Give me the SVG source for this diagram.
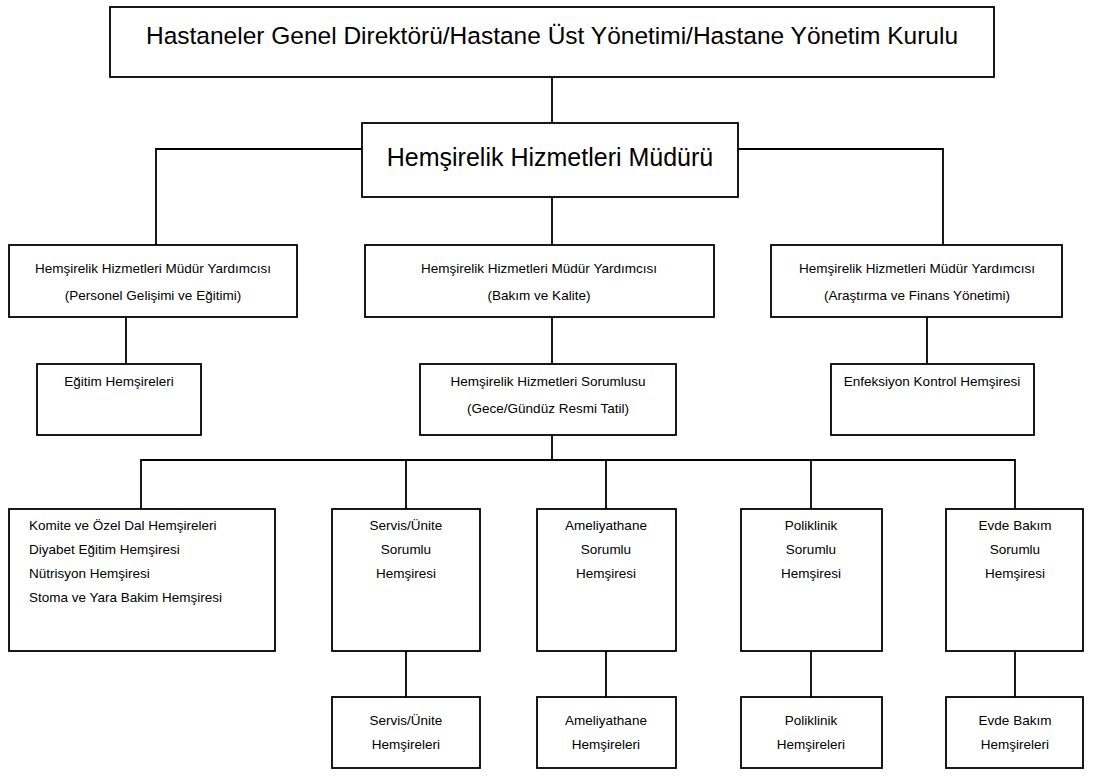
<svg xmlns="http://www.w3.org/2000/svg" width="1097" height="776" viewBox="0 0 1097 776">
  <style>
    .box { fill: #ffffff; stroke: #000000; stroke-width: 1.8; }
    .ln { fill: none; stroke: #000000; stroke-width: 1.8; }
    text { font-family: "Liberation Sans", Arial, sans-serif; fill: #000000; }
    .big { font-size: 24.5px; text-anchor: middle; }
    .sm { font-size: 13.5px; text-anchor: middle; }
    .smL { font-size: 13.5px; text-anchor: start; }
  </style>
  <rect width="1097" height="776" fill="#ffffff"/>

  <!-- connectors -->
  <g id="connectors" class="ln">
    <path d="M552 77 V123"/>
    <path d="M362 149 H156 V245"/>
    <path d="M738 149 H943 V245"/>
    <path d="M552 197 V245"/>
    <path d="M126 317 V364"/>
    <path d="M552 317 V364"/>
    <path d="M927 317 V364"/>
    <path d="M552 435 V460"/>
    <path d="M141 509 V460 H1015 V509"/>
    <path d="M406 460 V509"/>
    <path d="M606 460 V509"/>
    <path d="M811 460 V509"/>
    <path d="M406 651 V697"/>
    <path d="M606 651 V697"/>
    <path d="M811 651 V697"/>
    <path d="M1015 651 V697"/>
  </g>

  <g id="board">
    <rect class="box" x="110" y="7" width="884" height="70"/>
    <text class="big" x="552" y="44">Hastaneler Genel Direktörü/Hastane Üst Yönetimi/Hastane Yönetim Kurulu</text>
  </g>

  <g id="director">
    <rect class="box" x="362" y="123" width="376" height="74"/>
    <text class="big" x="550" y="166" style="font-size:25px">Hemşirelik Hizmetleri Müdürü</text>
  </g>

  <g id="deputy-staff">
    <rect class="box" x="9" y="245" width="288" height="72"/>
    <text class="sm" x="153" y="273">Hemşirelik Hizmetleri Müdür Yardımcısı</text>
    <text class="sm" x="153" y="300">(Personel Gelişimi ve Eğitimi)</text>
  </g>

  <g id="deputy-care">
    <rect class="box" x="365" y="245" width="349" height="72"/>
    <text class="sm" x="539" y="273">Hemşirelik Hizmetleri Müdür Yardımcısı</text>
    <text class="sm" x="539" y="300">(Bakım ve Kalite)</text>
  </g>

  <g id="deputy-research">
    <rect class="box" x="771" y="245" width="291" height="72"/>
    <text class="sm" x="917" y="273">Hemşirelik Hizmetleri Müdür Yardımcısı</text>
    <text class="sm" x="917" y="300">(Araştırma ve Finans Yönetimi)</text>
  </g>

  <g id="education-nurses">
    <rect class="box" x="37" y="364" width="164" height="71"/>
    <text class="sm" x="119" y="386">Eğitim Hemşireleri</text>
  </g>

  <g id="shift-supervisor">
    <rect class="box" x="420" y="364" width="256" height="71"/>
    <text class="sm" x="548" y="386">Hemşirelik Hizmetleri Sorumlusu</text>
    <text class="sm" x="548" y="413">(Gece/Gündüz Resmi Tatil)</text>
  </g>

  <g id="infection-control">
    <rect class="box" x="831" y="364" width="203" height="71"/>
    <text class="sm" x="932" y="386">Enfeksiyon Kontrol Hemşiresi</text>
  </g>

  <g id="specialist-nurses">
    <rect class="box" x="9" y="509" width="266" height="142"/>
    <text class="smL" x="29" y="530">Komite ve Özel Dal Hemşireleri</text>
    <text class="smL" x="29" y="554">Diyabet Eğitim Hemşiresi</text>
    <text class="smL" x="29" y="578">Nütrisyon Hemşiresi</text>
    <text class="smL" x="29" y="602">Stoma ve Yara Bakim Hemşiresi</text>
  </g>

  <g id="ward-head">
    <rect class="box" x="332" y="509" width="148" height="142"/>
    <text class="sm" x="406" y="530">Servis/Ünite</text>
    <text class="sm" x="406" y="554">Sorumlu</text>
    <text class="sm" x="406" y="578">Hemşiresi</text>
  </g>

  <g id="or-head">
    <rect class="box" x="537" y="509" width="139" height="142"/>
    <text class="sm" x="606" y="530">Ameliyathane</text>
    <text class="sm" x="606" y="554">Sorumlu</text>
    <text class="sm" x="606" y="578">Hemşiresi</text>
  </g>

  <g id="clinic-head">
    <rect class="box" x="741" y="509" width="141" height="142"/>
    <text class="sm" x="811" y="530">Poliklinik</text>
    <text class="sm" x="811" y="554">Sorumlu</text>
    <text class="sm" x="811" y="578">Hemşiresi</text>
  </g>

  <g id="homecare-head">
    <rect class="box" x="946" y="509" width="137" height="142"/>
    <text class="sm" x="1015" y="530">Evde Bakım</text>
    <text class="sm" x="1015" y="554">Sorumlu</text>
    <text class="sm" x="1015" y="578">Hemşiresi</text>
  </g>

  <g id="ward-nurses">
    <rect class="box" x="332" y="697" width="148" height="71"/>
    <text class="sm" x="406" y="725">Servis/Ünite</text>
    <text class="sm" x="406" y="749">Hemşireleri</text>
  </g>

  <g id="or-nurses">
    <rect class="box" x="537" y="697" width="139" height="71"/>
    <text class="sm" x="606" y="725">Ameliyathane</text>
    <text class="sm" x="606" y="749">Hemşireleri</text>
  </g>

  <g id="clinic-nurses">
    <rect class="box" x="741" y="697" width="141" height="71"/>
    <text class="sm" x="811" y="725">Poliklinik</text>
    <text class="sm" x="811" y="749">Hemşireleri</text>
  </g>

  <g id="homecare-nurses">
    <rect class="box" x="946" y="697" width="137" height="71"/>
    <text class="sm" x="1015" y="725">Evde Bakım</text>
    <text class="sm" x="1015" y="749">Hemşireleri</text>
  </g>
</svg>
